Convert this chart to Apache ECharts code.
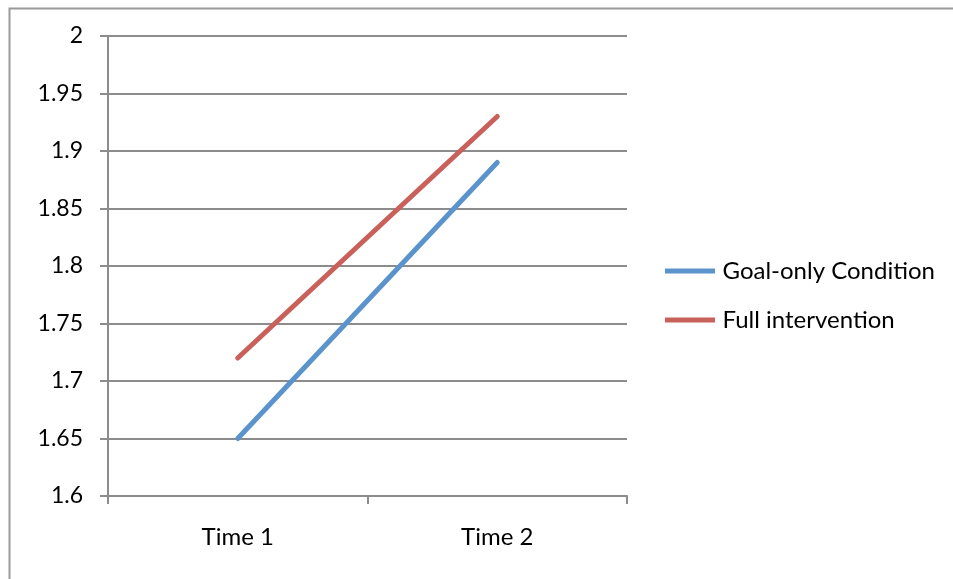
<!DOCTYPE html>
<html>
<head>
<meta charset="utf-8">
<script src="https://cdn.jsdelivr.net/npm/echarts@6/dist/echarts.min.js"></script>
<style>html,body{margin:0;padding:0;background:#fff;}#c{width:953px;height:579px;}</style>
</head>
<body>
<div id="c"></div>
<script>
const categories = ['Time 1', 'Time 2'];
const goalOnly = [1.65, 1.89];
const fullIntervention = [1.72, 1.93];
const yMin = 1.6, yMax = 2, yStep = 0.05;

const chart = echarts.init(document.getElementById('c'), null, {renderer: 'canvas'});
const font = 'Lato, "Open Sans", sans-serif';
chart.setOption({
  animation: false,
  backgroundColor: '#fff',
  graphic: [{
    type: 'rect', left: 7, top: 6, shape: {x: 0, y: 0, width: 960, height: 600},
    style: {fill: 'none', stroke: '#9a9a9a', lineWidth: 2}, silent: true, z: -1
  }],
  grid: {left: 108, top: 36, right: 326, bottom: 83, containLabel: false},
  legend: {
    orient: 'vertical', left: 660, top: 254, itemGap: 25,
    itemWidth: 55, itemHeight: 5, icon: 'path://M0,0L10,0L10,1L0,1Z',
    textStyle: {fontFamily: font, fontSize: 24, lineHeight: 24, color: '#000', padding: [0, 0, 0, 0]},
    data: ['Goal-only Condition', 'Full intervention']
  },
  xAxis: {
    type: 'category', data: categories, boundaryGap: true,
    axisLine: {lineStyle: {color: '#8c8c8c', width: 2}},
    axisTick: {show: true, length: 8, lineStyle: {color: '#8c8c8c', width: 2}},
    axisLabel: {fontFamily: font, fontSize: 24, color: '#000', margin: 29}
  },
  yAxis: {
    type: 'value', min: yMin, max: yMax, interval: yStep,
    axisLine: {show: true, lineStyle: {color: '#8c8c8c', width: 2}},
    axisTick: {show: true, length: 8, lineStyle: {color: '#8c8c8c', width: 2}},
    splitLine: {show: true, lineStyle: {color: '#8c8c8c', width: 2}},
    axisLabel: {fontFamily: font, fontSize: 23, color: '#000', margin: 25,
      formatter: v => String(Math.round(v * 100) / 100)}
  },
  series: [
    {name: 'Goal-only Condition', type: 'line', data: goalOnly, symbol: 'none',
     itemStyle: {color: '#5b94cc'}, lineStyle: {color: '#5b94cc', width: 5, cap: 'round'}},
    {name: 'Full intervention', type: 'line', data: fullIntervention, symbol: 'none',
     itemStyle: {color: '#c9605a'}, lineStyle: {color: '#c9605a', width: 5, cap: 'round'}}
  ]
});
</script>
</body>
</html>
